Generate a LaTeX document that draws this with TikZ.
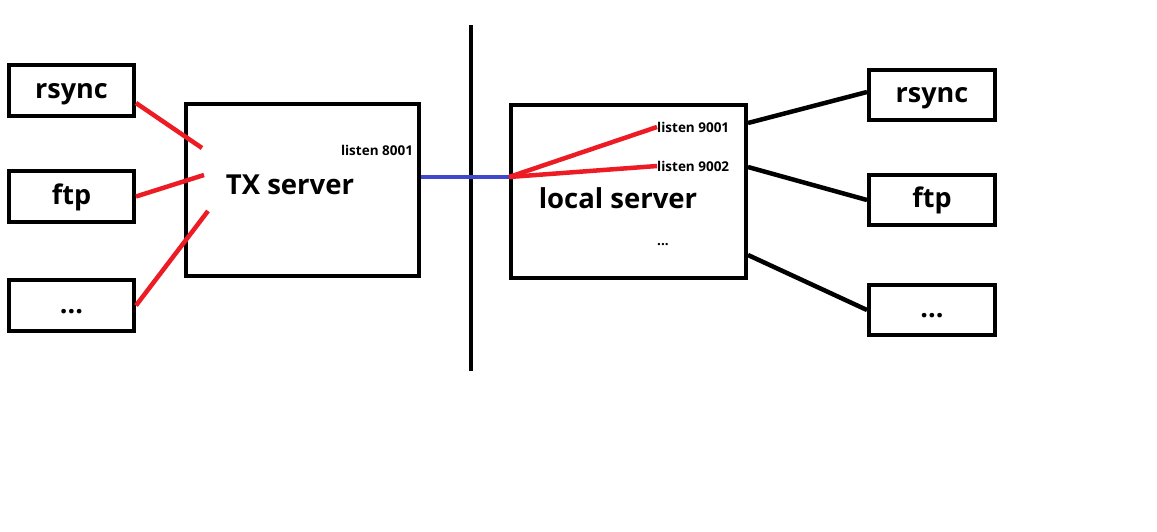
\documentclass[tikz,border=0pt]{standalone}
\usepackage{fontspec}
\setmainfont{Open Sans}
\definecolor{paintred}{RGB}{237,28,36}
\definecolor{paintblue}{RGB}{63,72,204}
\begin{document}
\begin{tikzpicture}[x=1pt,y=-1pt]
\tikzstyle{svcbox}=[rectangle,draw,line width=4pt,minimum width=125pt,minimum height=51pt,inner sep=0pt,text height=20pt,text depth=5pt,font=\fontsize{27}{27}\selectfont\bfseries]
\tikzstyle{srvbox}=[rectangle,draw,line width=4pt,inner sep=0pt]
\tikzstyle{bigtext}=[inner sep=0pt,font=\fontsize{27.5}{27.5}\selectfont\bfseries]
\tikzstyle{porttext}=[inner sep=0pt,font=\fontsize{13.5}{13.5}\selectfont\bfseries]
\tikzstyle{redline}=[paintred,line width=4.5pt]
\tikzstyle{blackline}=[black,line width=4.5pt]
\useasboundingbox (0,0) rectangle (1157,531);
\node[svcbox] (lrsync) at (71.5,90.5) {rsync};
\node[svcbox] (lftp) at (71.5,196.5) {ftp};
\node[svcbox] (ldots) at (71.5,305.5) {...};
\node[srvbox,minimum width=233pt,minimum height=172pt] (tx) at (302.5,190) {};
\node[bigtext] (txname) at (290,185) {TX server};
\node[porttext] (l8001) at (377,150) {listen 8001};
\coordinate (txin1) at (202,148);
\coordinate (txin2) at (204,175);
\coordinate (txin3) at (208,211);
\draw[redline] ([yshift=-12.5pt]lrsync.east) -- (txin1);
\draw[redline] (lftp.east) -- (txin2);
\draw[redline] (ldots.east) -- (txin3);
\coordinate (walltop) at (471,25);
\coordinate (wallbot) at (471,371);
\draw[line width=4pt] (walltop) -- (wallbot);
\node[srvbox,minimum width=235pt,minimum height=173pt] (local) at (628.5,191.5) {};
\node[bigtext] (localname) at (618,198) {local server};
\node[porttext,anchor=west] (l9001) at (657,127) {listen 9001};
\node[porttext,anchor=west] (l9002) at (657,166) {listen 9002};
\node[porttext] (lmore) at (663,245) {...};
\draw[paintblue,line width=4pt] ([yshift=13pt]tx.east) -- ([yshift=14.5pt]local.west);
\draw[redline] ([yshift=14.5pt]local.west) -- (l9001.west);
\draw[redline] ([yshift=14.5pt]local.west) -- (l9002.west);
\node[svcbox,minimum width=126pt,minimum height=50pt] (rrsync) at (932,95) {rsync};
\node[svcbox,minimum width=126pt,minimum height=50pt] (rftp) at (932,200) {ftp};
\node[svcbox,minimum width=126pt,minimum height=50pt] (rdots) at (932,310) {...};
\draw[blackline] ([yshift=68.5pt]local.east) -- ([yshift=3pt]rrsync.west);
\draw[blackline] ([yshift=24.5pt]local.east) -- (rftp.west);
\draw[blackline] ([yshift=-63.5pt]local.east) -- (rdots.west);
\end{tikzpicture}
\end{document}
